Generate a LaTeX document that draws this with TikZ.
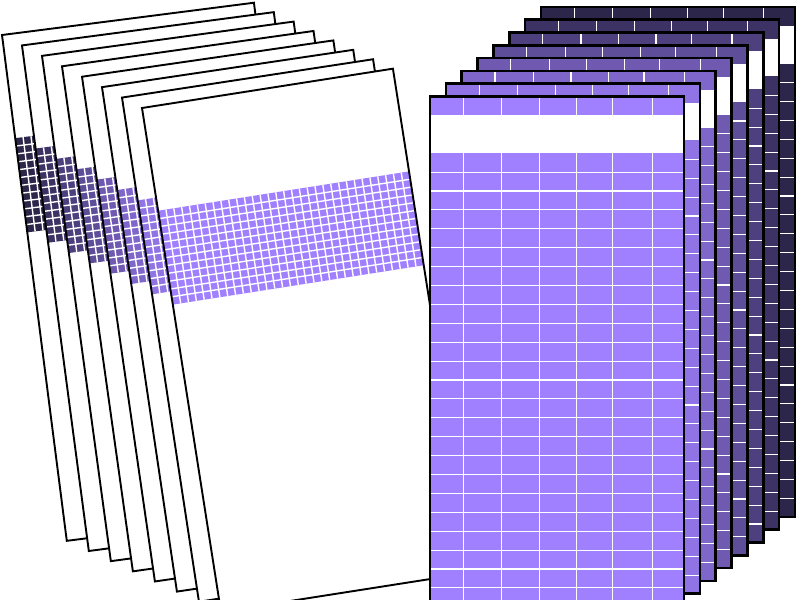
\documentclass[tikz,border=0pt]{standalone}
\usepackage{xcolor}
\usepackage{tikz}
\usetikzlibrary{calc}
\definecolor{tileback}{HTML}{2D264B}
\definecolor{tilefront}{HTML}{A080FF}

\begin{document}
\begin{tikzpicture}[x=0.5pt, y=-0.5pt,
  slant/.style={draw=black, line width=0.95pt},
  sheet/.style={draw=black, line width=1.3pt},
  gridln/.style={white, line width=0.7pt},
  thinln/.style={white, line width=0.55pt}]
  \useasboundingbox (0,0) rectangle (800,600);
  \clip (0,0) rectangle (800,600);
  % ---------- slanted pages: band of small cells ----------
  \foreach \i in {0,...,7} {
    \pgfmathtruncatemacro{\bandmix}{round(100*\i/7)}
    \colorlet{bandcol}{tilefront!\bandmix!tileback}
    \begin{scope}[shift={(2+20*\i, 35+10.43*\i)}, rotate=7.3+0.23*\i]
      \fill[white] (0,0) rectangle (254,510);
      \fill[bandcol] (0,104) rectangle (254,199);
      \foreach \c in {1,...,31} \draw[gridln] (\c*7.94,104) -- (\c*7.94,199);
      \foreach \r in {1,...,11} \draw[gridln] (0,104+\r*7.92) -- (254,104+\r*7.92);
      \draw[slant] (0,0) rectangle (254,510);
    \end{scope}
  }
  % ---------- upright pages: wide cells, two blank rows ----------
  \foreach \i in {0,...,7} {
    \pgfmathtruncatemacro{\bandmix}{round(100*\i/7)}
    \colorlet{bandcol}{tilefront!\bandmix!tileback}
    \begin{scope}[shift={(541-15.86*\i, 7+12.79*\i)}]
      \fill[bandcol] (0,0) rectangle (254,510);
      \fill[white] (0,18.9) rectangle (254,56.7);
      \foreach \c in {33.3,71.7,109.3,146.7,182.3,222.7} {
        \draw[thinln] (\c,0) -- (\c,18.9);
        \draw[thinln] (\c,56.7) -- (\c,510);
      }
      \foreach \r in {4,...,26} \draw[thinln] (0,\r*18.9) -- (254,\r*18.9);
      \draw[sheet] (0,0) rectangle (254,510);
    \end{scope}
  }
\end{tikzpicture}
\end{document}
